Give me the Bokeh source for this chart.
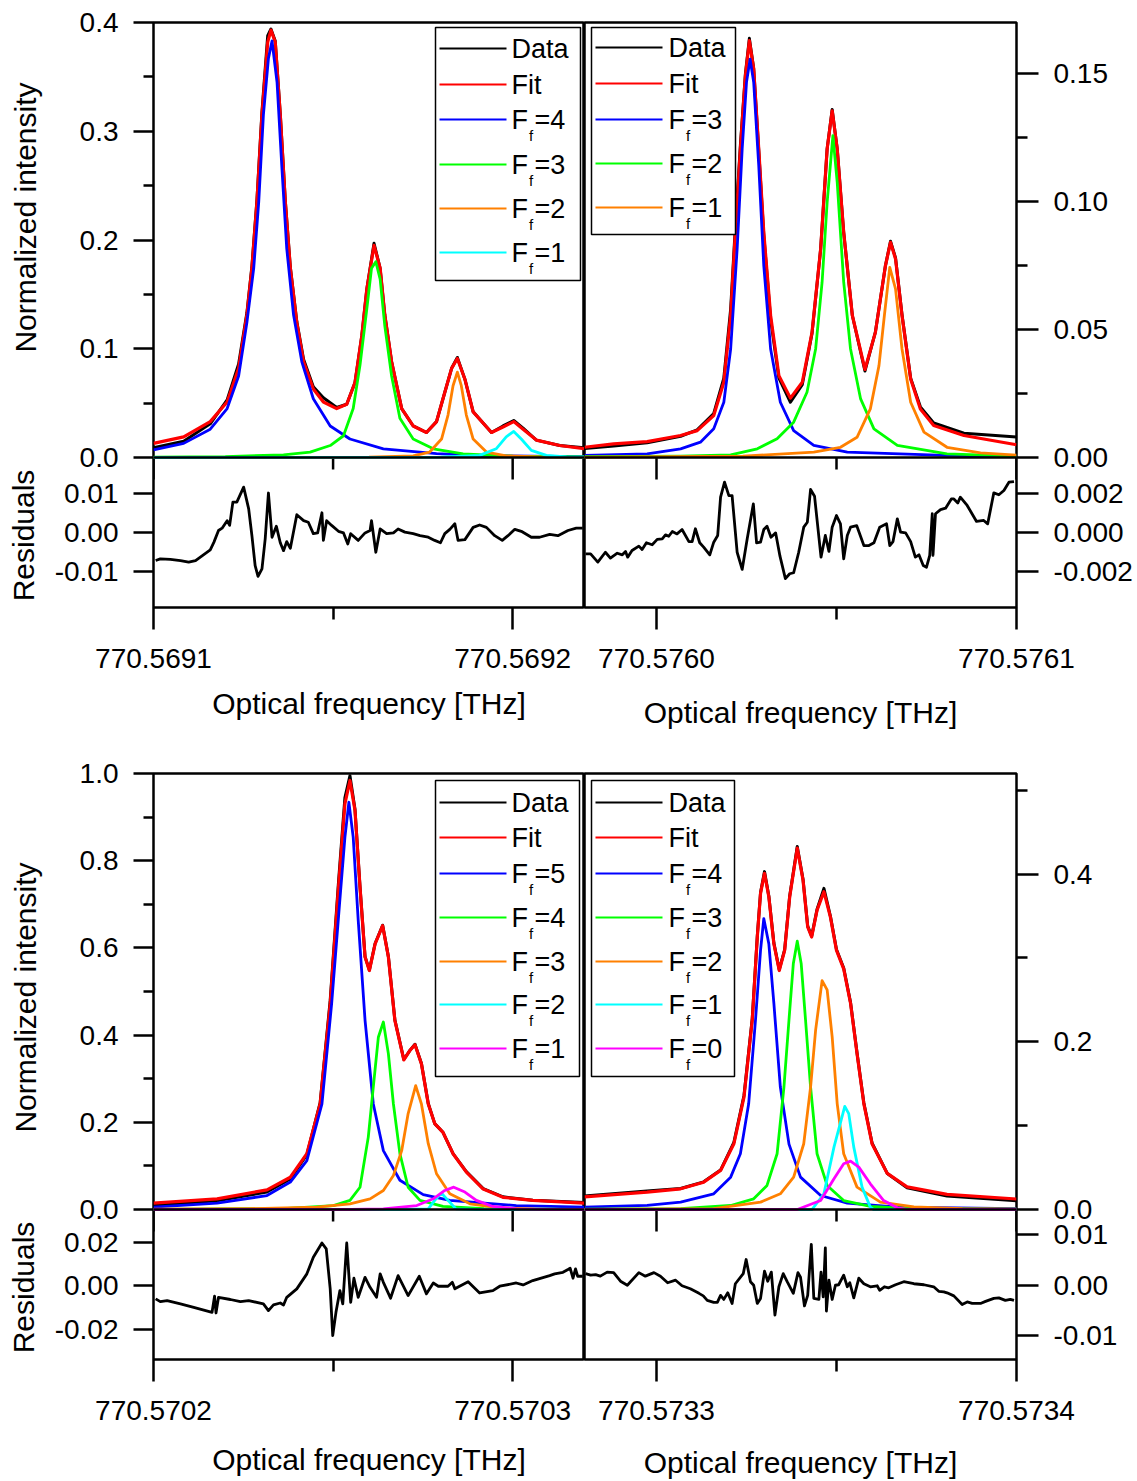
import numpy as np
from bokeh.plotting import figure
from bokeh.models import (Range1d, LinearAxis, FixedTicker, Span, Label,
                          BoxAnnotation, Arrow, CustomJSTickFormatter)
from bokeh.layouts import column, row
from bokeh.embed import file_html
from bokeh.resources import INLINE

FONT = "Liberation Sans"
BLACK, RED, BLUE, GREEN = "#000000", "#FF0000", "#0000FF", "#00FF00"
ORANGE, CYAN, MAGENTA = "#FF8000", "#00FFFF", "#FF00FF"

# ---------------- x in MHz offset from the first tick label ----------------
# top-left : 770.5691 THz ; top-right : 770.5760 THz
# bottom-left: 770.5702 THz ; bottom-right: 770.5733 THz

# ---------- TOP LEFT ----------
tl_x = [0, 8.4, 15.8, 20.5, 23.7, 26.0, 27.4, 28.8, 30.2, 31.8, 32.7, 33.9, 35.3, 36.7, 38.1,
        39.9, 41.8, 44.5, 47.3, 51.0, 53.8, 56.1, 58.0, 59.4, 61.4, 63.1, 64.4, 66.3, 69.1, 72.3,
        76.0, 78.8, 80.6, 83.0, 84.6, 86.7, 89.0, 94.1, 97.3, 100.3, 102.9, 106.6, 113.1, 120]
tl_fit = [0.013, 0.019, 0.033, 0.051, 0.082, 0.131, 0.174, 0.235, 0.315, 0.382, 0.393, 0.382, 0.315,
          0.235, 0.174, 0.124, 0.088, 0.063, 0.051, 0.045, 0.049, 0.069, 0.112, 0.155, 0.195, 0.174,
          0.131, 0.088, 0.045, 0.029, 0.023, 0.033, 0.054, 0.082, 0.091, 0.072, 0.042, 0.023, 0.028,
          0.033, 0.026, 0.016, 0.011, 0.008]
tl_data = [0.009, 0.015, 0.031, 0.053, 0.086, 0.133, 0.176, 0.237, 0.318, 0.388, 0.394, 0.383, 0.316,
           0.236, 0.175, 0.125, 0.090, 0.065, 0.055, 0.046, 0.049, 0.069, 0.112, 0.155, 0.197, 0.174,
           0.131, 0.088, 0.045, 0.029, 0.023, 0.033, 0.054, 0.082, 0.092, 0.072, 0.042, 0.023, 0.029,
           0.034, 0.027, 0.016, 0.011, 0.009]
tl_f4 = [(0, 0.007), (8.4, 0.013), (15.8, 0.026), (20.5, 0.045), (23.7, 0.075), (26.0, 0.124),
         (27.9, 0.174), (29.3, 0.235), (30.6, 0.315), (32.0, 0.367), (33.0, 0.383), (34.4, 0.345),
         (35.7, 0.269), (37.1, 0.192), (39.0, 0.131), (41.3, 0.088), (44.5, 0.054), (49.2, 0.029),
         (54.7, 0.017), (64.0, 0.008), (78.8, 0.0035), (90, 0.002), (105, 0.0012), (120, 0.0008)]
tl_f3 = [(0, 0.0004), (20, 0.0008), (36.2, 0.0025), (43.6, 0.005), (49.2, 0.011), (52.9, 0.020),
         (55.6, 0.045), (57.5, 0.085), (59.4, 0.137), (60.7, 0.174), (61.9, 0.180), (63.1, 0.164),
         (64.4, 0.121), (66.3, 0.075), (68.6, 0.036), (72.3, 0.017), (77.9, 0.008), (86.2, 0.0034),
         (100, 0.0012), (120, 0.0006)]
tl_f2 = [(0, 0.0001), (60, 0.0003), (72.3, 0.0015), (76.9, 0.005), (80.2, 0.017), (82.0, 0.039),
         (83.4, 0.066), (84.6, 0.0785), (85.7, 0.066), (87.1, 0.039), (89.0, 0.017), (92.7, 0.005),
         (98.2, 0.0015), (110, 0.0004), (120, 0.0002)]
tl_f1 = [(0, 0.0), (80, 0.0003), (90.8, 0.002), (95.4, 0.008), (98.2, 0.019), (100.3, 0.024),
         (102.4, 0.017), (105.2, 0.0065), (109.4, 0.002), (115, 0.0006), (120, 0.0003)]
tl_res = [(0.6, -0.0071), (1.9, -0.0067), (4.7, -0.0068), (7.5, -0.0071), (9.8, -0.0075), (11.7, -0.0071),
          (14.0, -0.0056), (15.8, -0.0044), (16.8, -0.0025), (18.1, 0.0005), (19.1, 0.0011), (20.5, 0.0030),
          (21.2, 0.0018), (22.1, 0.0077), (23.2, 0.0077), (25.1, 0.0115), (26.5, 0.0060), (27.4, -0.0008),
          (28.3, -0.0084), (29.1, -0.0111), (30.2, -0.0092), (31.1, -0.0016), (32.0, 0.0100), (33.0, -0.0012),
          (34.2, 0.0016), (35.3, -0.0026), (36.2, -0.0046), (37.1, -0.0023), (38.1, -0.0040), (39.9, 0.0045),
          (41.8, 0.0030), (43.1, 0.0026), (44.5, -0.0003), (45.7, -0.0001), (46.9, 0.0050), (47.3, -0.0020),
          (48.2, 0.0030), (49.6, 0.0018), (51.5, 0.0003), (52.9, -0.0001), (54.1, -0.0029), (54.9, -0.0003),
          (57.0, -0.0020), (58.9, -0.0001), (60.3, 0.0005), (60.7, 0.0030), (61.9, -0.0050), (63.1, 0.0009),
          (64.9, -0.0003), (66.8, -0.0001), (68.1, 0.0009), (70.0, 0.0001), (72.3, -0.0003), (74.2, -0.0008),
          (76.5, -0.0012), (78.3, -0.0020), (79.9, -0.0026), (81.1, -0.0003), (82.5, 0.0008), (83.9, 0.0022),
          (84.8, -0.0020), (86.7, -0.0018), (89.0, 0.0013), (90.8, 0.0019), (92.7, 0.0013), (95.0, -0.0008),
          (97.1, -0.0020), (98.7, -0.0008), (100.6, 0.0008), (102.4, 0.0003), (105.2, -0.0012),
          (107.5, -0.0012), (110.3, -0.0005), (112.6, -0.0008), (115.4, 0.0005), (117.7, 0.0011),
          (119.5, 0.0011)]

# ---------- TOP RIGHT ----------
tr_x = [-20, -11.9, -2.6, 6.7, 11.3, 15.9, 18.7, 20.6, 21.9, 23.3, 24.7, 25.8, 27.0, 28.4, 29.8, 31.7,
        34.0, 37.2, 40.5, 43.2, 45.6, 47.4, 48.8, 50.2, 52.0, 54.4, 57.9, 60.8, 63.6, 65.0, 66.4, 68.2,
        70.6, 73.3, 77.0, 85.4, 100]
tr_fit = [0.0040, 0.0053, 0.0062, 0.0086, 0.0105, 0.0164, 0.0294, 0.0555, 0.088, 0.1206, 0.1492, 0.1629,
          0.1518, 0.1206, 0.088, 0.0555, 0.032, 0.0232, 0.0294, 0.0489, 0.0815, 0.1206, 0.1355, 0.1206,
          0.088, 0.0555, 0.0344, 0.0489, 0.075, 0.0841, 0.0776, 0.0555, 0.0307, 0.019, 0.0125, 0.0086,
          0.0050]
tr_data = [0.0035, 0.0045, 0.0058, 0.0083, 0.0108, 0.0172, 0.031, 0.058, 0.090, 0.122, 0.150, 0.1638,
           0.152, 0.120, 0.087, 0.054, 0.031, 0.0216, 0.0285, 0.0485, 0.0815, 0.1206, 0.136, 0.1206,
           0.088, 0.0555, 0.0338, 0.049, 0.075, 0.0845, 0.078, 0.0558, 0.031, 0.0198, 0.0135, 0.0095,
           0.0080]
tr_f3 = [(-20, 0.0008), (-2.6, 0.0014), (6.7, 0.0034), (12.2, 0.006), (15.9, 0.0112), (18.7, 0.0216),
         (20.6, 0.0424), (22.4, 0.0815), (23.8, 0.1206), (25.0, 0.1466), (26.0, 0.1557), (27.0, 0.1466),
         (28.4, 0.1141), (29.8, 0.075), (31.7, 0.0424), (34.4, 0.0216), (38.1, 0.0105), (43.7, 0.0047),
         (53.0, 0.0021), (80, 0.0008), (100, 0.0005)]
tr_f2 = [(-20, 0.0003), (6.7, 0.0005), (20.6, 0.001), (28.0, 0.0034), (33.5, 0.0073), (38.1, 0.0138),
         (41.8, 0.0255), (44.2, 0.0424), (46.0, 0.0685), (47.4, 0.0997), (49.0, 0.1258), (50.2, 0.1075),
         (52.0, 0.0685), (53.9, 0.0424), (56.7, 0.0229), (60.4, 0.0112), (66.9, 0.0047), (80.7, 0.0014),
         (100, 0.0005)]
tr_f1 = [(-20, 0.0001), (24, 0.0005), (43.7, 0.0021), (51.1, 0.004), (55.7, 0.0079), (59.4, 0.019),
         (61.8, 0.0359), (63.3, 0.0555), (64.8, 0.0743), (66.4, 0.0659), (68.2, 0.0424), (70.6, 0.0216),
         (74.3, 0.0099), (80.7, 0.004), (90, 0.0018), (100, 0.0009)]
tr_res = [(-19.7, -0.00108), (-18.3, -0.00108), (-16.3, -0.0015), (-14.2, -0.0010), (-12.8, -0.0013),
          (-10.9, -0.00105), (-9.5, -0.00113), (-8.6, -0.00096), (-8.0, -0.00125), (-6.8, -0.00091),
          (-4.9, -0.00069), (-4.0, -0.00086), (-2.8, -0.00052), (-1.2, -0.00062), (0.2, -0.00035),
          (1.6, -0.00032), (2.5, -0.00012), (3.4, -0.00019), (4.4, 0.00005), (5.7, -0.00007), (7.1, 0.00015),
          (9.0, -0.00046), (9.9, -0.00046), (10.8, 0.00019), (12.0, -0.00052), (13.1, -0.00074),
          (14.8, -0.00113), (15.9, -0.00049), (17.0, -0.00015), (17.8, 0.00179), (18.9, 0.00255),
          (20.1, 0.00187), (21.0, 0.00187), (22.4, -0.0010), (23.8, -0.00187), (25.2, -0.00032),
          (26.9, 0.00145), (27.8, -0.00052), (28.9, -0.00049), (29.8, 0.00015), (30.7, 0.00032),
          (31.8, -0.00024), (33.1, -0.00002), (34.3, -0.0012), (35.8, -0.00234), (37.0, -0.00209),
          (38.1, -0.00204), (39.5, -0.0010), (40.9, 0.00027), (41.9, 0.00052), (42.8, 0.00218),
          (43.9, 0.00184), (45.7, -0.00125), (46.9, -0.00015), (47.9, -0.00096), (48.8, 0.00027),
          (50.0, 0.00086), (51.1, 0.00044), (52.0, -0.00133), (53.0, -0.00015), (53.9, 0.00027),
          (55.6, 0.00035), (57.6, -0.00066), (59.0, -0.00066), (60.4, -0.00052), (62.0, 0.00027),
          (63.9, 0.00044), (64.8, -0.00066), (65.7, -0.00046), (66.9, 0.00069), (67.8, 0.00002),
          (69.2, -0.00002), (70.6, -0.00046), (71.9, -0.00125), (72.9, -0.00113), (74.1, -0.00167),
          (75.0, -0.00176), (75.9, -0.00116), (76.6, 0.00095), (76.8, -0.00116), (77.5, 0.00095),
          (78.9, 0.00116), (80.3, 0.00123), (81.9, 0.0017), (82.6, 0.0017), (83.7, 0.0015), (84.4, 0.00179),
          (86.3, 0.00137), (88.9, 0.00056), (90.9, 0.00061), (92.0, 0.00044), (93.7, 0.00201),
          (95.1, 0.00191), (96.5, 0.00213), (97.9, 0.00255), (99.3, 0.00258)]

# ---------- BOTTOM LEFT ----------
bl_x = [0, 17.7, 31.6, 38.1, 42.7, 46.4, 49.2, 51.5, 53.3, 54.7, 56.1, 57.5, 58.9, 60.1, 61.7, 63.8,
        65.4, 67.2, 69.7, 71.4, 72.8, 74.6, 76.5, 78.3, 80.6, 83.4, 87.1, 91.8, 97.3, 105.6, 120]
bl_fit = [0.0145, 0.0245, 0.045, 0.074, 0.128, 0.242, 0.472, 0.739, 0.931, 0.984, 0.915, 0.739, 0.579,
          0.548, 0.609, 0.651, 0.579, 0.434, 0.343, 0.365, 0.378, 0.334, 0.242, 0.197, 0.177, 0.128,
          0.086, 0.047, 0.028, 0.021, 0.0145]
bl_data = [0.010, 0.020, 0.040, 0.070, 0.126, 0.245, 0.48, 0.75, 0.945, 0.995, 0.918, 0.74, 0.58, 0.549,
           0.61, 0.652, 0.58, 0.435, 0.344, 0.365, 0.379, 0.335, 0.243, 0.197, 0.177, 0.128, 0.087,
           0.048, 0.029, 0.021, 0.016]
bl_f5 = [(0, 0.0054), (17.7, 0.0145), (31.6, 0.032), (38.1, 0.063), (42.7, 0.112), (46.9, 0.242),
         (49.6, 0.472), (51.8, 0.701), (53.3, 0.854), (54.4, 0.934), (55.6, 0.854), (57.0, 0.663),
         (58.9, 0.434), (61.2, 0.242), (64.0, 0.135), (68.6, 0.067), (75.1, 0.034), (82.5, 0.021),
         (101, 0.009), (120, 0.0054)]
bl_f4 = [(0, 0.0005), (36.2, 0.002), (50.1, 0.009), (54.7, 0.021), (57.5, 0.051), (59.8, 0.166),
         (61.2, 0.281), (62.6, 0.395), (64.0, 0.430), (65.4, 0.357), (66.8, 0.242), (68.6, 0.128),
         (70.9, 0.051), (74.2, 0.021), (80.6, 0.007), (92, 0.002), (120, 0.0005)]
bl_f3 = [(0, 0.001), (26.9, 0.002), (45.5, 0.0054), (54.7, 0.013), (60.3, 0.0245), (64.0, 0.0436),
         (66.8, 0.078), (69.1, 0.135), (70.9, 0.220), (73.0, 0.284), (74.6, 0.242), (76.5, 0.151),
         (78.8, 0.082), (82.5, 0.036), (88.1, 0.013), (96.4, 0.004), (106, 0.001), (120, 0.0005)]
bl_f2 = [(0, 0.0), (70, 0.0), (76.5, 0.0015), (78.3, 0.021), (80.2, 0.0375), (82.0, 0.021),
         (84.2, 0.0015), (90, 0.0), (120, 0.0)]
bl_f1 = [(0, 0.0), (55, 0.0), (64, 0.0015), (73.3, 0.009), (77.9, 0.0245), (81.1, 0.0436), (83.6, 0.0512),
         (86.7, 0.040), (89.9, 0.021), (94.5, 0.007), (101, 0.0015), (110, 0.0), (120, 0.0)]
bl_res = [(0.6, -0.0061), (1.9, -0.0074), (3.8, -0.0069), (7.5, -0.0084), (11.2, -0.0100), (16.3, -0.0123),
          (17.0, -0.0049), (17.4, -0.0126), (18.1, -0.0054), (21.4, -0.0064), (24.2, -0.0074),
          (26.5, -0.0069), (30.6, -0.0084), (32.0, -0.0115), (33.4, -0.0089), (35.3, -0.0080),
          (36.2, -0.0089), (37.1, -0.0054), (39.9, -0.0015), (42.7, 0.0054), (44.5, 0.0130), (46.9, 0.0196),
          (48.1, 0.0169), (49.2, -0.0015), (49.9, -0.0230), (50.8, -0.0123), (51.9, -0.0023),
          (52.7, -0.0084), (53.8, 0.0196), (54.9, -0.0077), (55.8, 0.0034), (57.0, -0.0054), (58.9, 0.0038),
          (60.3, -0.0008), (62.1, -0.0054), (63.1, 0.0054), (64.0, 0.0015), (66.0, -0.0058), (68.1, 0.0046),
          (70.9, -0.0046), (74.0, 0.0043), (76.0, -0.0038), (77.9, 0.0012), (79.3, -0.0003),
          (82.0, -0.0003), (83.2, 0.0015), (83.9, -0.0015), (87.6, 0.0018), (90.8, -0.0034),
          (94.5, -0.0023), (96.4, -0.0003), (101.0, 0.0012), (102.9, 0.0003), (105.6, 0.0023),
          (110.3, 0.0046), (111.7, 0.0054), (114.0, 0.0061), (115.4, 0.0074), (116.0, 0.0080),
          (116.8, 0.0034), (117.5, 0.0077), (118.1, 0.0043), (119.5, 0.0043)]

# ---------- BOTTOM RIGHT ----------
br_x = [-20, -2.6, 6.7, 13.1, 17.8, 21.5, 24.3, 26.6, 28.0, 28.9, 30.0, 31.2, 32.6, 34.1, 35.6, 37.0,
        39.1, 40.7, 42.0, 43.1, 44.6, 46.5, 48.3, 50.0, 52.0, 53.9, 55.7, 57.6, 59.9, 64.1, 69.6, 80.7, 100]
br_fit = [0.0150, 0.0207, 0.0247, 0.0326, 0.0466, 0.0784, 0.134, 0.226, 0.325, 0.377, 0.401, 0.373,
          0.317, 0.285, 0.309, 0.373, 0.431, 0.393, 0.337, 0.325, 0.357, 0.379, 0.349, 0.309, 0.287,
          0.246, 0.186, 0.126, 0.078, 0.043, 0.027, 0.018, 0.0125]
br_data = [0.016, 0.022, 0.025, 0.033, 0.047, 0.080, 0.136, 0.228, 0.326, 0.378, 0.403, 0.374, 0.318,
           0.286, 0.310, 0.374, 0.433, 0.394, 0.338, 0.326, 0.358, 0.383, 0.350, 0.310, 0.288, 0.247,
           0.187, 0.127, 0.079, 0.043, 0.026, 0.016, 0.0105]
br_f4 = [(-20, 0.0028), (-2.6, 0.0048), (6.7, 0.0088), (15.9, 0.0187), (20.6, 0.0386), (23.3, 0.0665),
         (25.6, 0.126), (27.5, 0.226), (28.9, 0.309), (29.8, 0.347), (31.2, 0.317), (32.6, 0.246),
         (34.4, 0.146), (36.8, 0.078), (40.0, 0.0386), (45.6, 0.0167), (53.0, 0.0076), (67, 0.0028),
         (100, 0.001)]
br_f3 = [(-20, 0.0003), (6.7, 0.001), (20.6, 0.0048), (27.0, 0.0127), (30.7, 0.0287), (33.5, 0.0665),
         (35.4, 0.146), (36.8, 0.226), (38.0, 0.293), (39.1, 0.320), (40.2, 0.293), (41.4, 0.226),
         (42.8, 0.146), (44.6, 0.0665), (47.4, 0.0287), (52.0, 0.0107), (59.4, 0.0036), (71, 0.001),
         (100, 0.0003)]
br_f2 = [(-20, 0.0002), (15.9, 0.001), (28.9, 0.0088), (34.4, 0.0187), (38.1, 0.0386), (40.9, 0.0784),
         (42.8, 0.146), (44.2, 0.214), (46.0, 0.273), (47.4, 0.262), (48.8, 0.206), (50.2, 0.126),
         (52.0, 0.0665), (55.7, 0.0267), (62.2, 0.0088), (71.5, 0.003), (85, 0.001), (100, 0.0005)]
br_f1 = [(-20, 0.0), (43.2, 0.0), (46.5, 0.0187), (49.3, 0.0744), (52.3, 0.123), (53.4, 0.1143),
         (54.8, 0.0744), (57.1, 0.0267), (59.4, 0.0028), (60.3, 0.0), (100, 0.0)]
br_f0 = [(-20, 0.0), (39.1, 0.0), (45.6, 0.0107), (49.3, 0.0366), (52.0, 0.0545), (53.9, 0.0577),
         (56.2, 0.0505), (59.4, 0.0307), (63.1, 0.0107), (66.9, 0.002), (69.6, 0.0), (100, 0.0)]
br_res = [(-19.7, 0.0023), (-18.3, 0.0020), (-16.9, 0.0021), (-15.6, 0.0018), (-13.7, 0.0026),
          (-11.9, 0.0025), (-10.0, 0.0008), (-8.1, 0.0), (-4.9, 0.0025), (-3.1, 0.0018), (-0.7, 0.0025),
          (1.1, 0.0018), (3.1, 0.0005), (5.3, 0.0010), (7.1, -0.0001), (9.4, -0.0007), (11.8, -0.0016),
          (13.0, -0.0021), (14.1, -0.0030), (15.9, -0.0034), (16.9, -0.0034), (17.8, -0.0020),
          (18.7, -0.0028), (19.8, -0.0015), (21.0, -0.0036), (21.9, 0.0003), (24.1, 0.0023), (24.9, 0.0051),
          (26.1, 0.0007), (27.0, 0.0), (28.0, -0.0036), (28.9, -0.0026), (30.0, 0.0028), (30.9, 0.0008),
          (31.9, 0.0026), (32.9, -0.0059), (34.0, -0.0003), (35.2, 0.0023), (36.3, 0.0007), (38.0, -0.0016),
          (39.3, 0.0025), (40.0, 0.0016), (41.1, -0.0041), (42.0, -0.0020), (43.0, 0.0081), (43.7, -0.0026),
          (45.1, -0.0028), (45.7, 0.0026), (46.3, -0.0023), (46.9, 0.0074), (47.2, -0.0051), (47.9, 0.0010),
          (48.8, -0.0028), (49.7, 0.0), (50.6, 0.0001), (52.0, 0.0020), (53.0, -0.0003), (53.7, 0.0005),
          (54.8, -0.0025), (56.2, 0.0014), (57.6, 0.0003), (59.4, -0.0003), (61.3, -0.0001), (62.0, -0.0010),
          (63.3, -0.0003), (64.5, -0.0005), (66.4, 0.0001), (68.7, 0.0007), (71.5, 0.0003), (74.3, 0.0001),
          (77.0, -0.0003), (78.4, -0.0012), (79.8, -0.0013), (80.7, -0.0015), (82.6, -0.0021),
          (84.9, -0.0038), (86.3, -0.0033), (87.7, -0.0036), (90.0, -0.0036), (91.4, -0.0032),
          (93.7, -0.0026), (95.1, -0.0025), (96.9, -0.0030), (98.3, -0.0028), (99.3, -0.0030)]

# ---------- axis ticks / labels ----------
left_x_ticks = [0, 100]
left_x_minor = [50]
right_x_ticks = [0, 100]
right_x_minor = [50]
tl_xlabels = ["770.5691", "770.5692"]
tr_xlabels = ["770.5760", "770.5761"]
bl_xlabels = ["770.5702", "770.5703"]
br_xlabels = ["770.5733", "770.5734"]

tl_yt = [0, 0.1, 0.2, 0.3, 0.4]
tl_yl = ["0.0", "0.1", "0.2", "0.3", "0.4"]
tl_ym = [0.05, 0.15, 0.25, 0.35]
tl_rt = [-0.01, 0.0, 0.01]
tl_rl = ["-0.01", "0.00", "0.01"]

tr_yt = [0, 0.05, 0.10, 0.15]
tr_yl = ["0.00", "0.05", "0.10", "0.15"]
tr_ym = [0.025, 0.075, 0.125]
tr_rt = [-0.002, 0.0, 0.002]
tr_rl = ["-0.002", "0.000", "0.002"]

bl_yt = [0, 0.2, 0.4, 0.6, 0.8, 1.0]
bl_yl = ["0.0", "0.2", "0.4", "0.6", "0.8", "1.0"]
bl_ym = [0.1, 0.3, 0.5, 0.7, 0.9]
bl_rt = [-0.02, 0.0, 0.02]
bl_rl = ["-0.02", "0.00", "0.02"]

br_yt = [0, 0.2, 0.4]
br_yl = ["0.0", "0.2", "0.4"]
br_ym = [0.1, 0.3, 0.5]
br_rt = [-0.01, 0.0, 0.01]
br_rl = ["-0.01", "0.00", "0.01"]

assert len(tl_x) == len(tl_fit) == len(tl_data)
assert len(tr_x) == len(tr_fit) == len(tr_data)
assert len(bl_x) == len(bl_fit) == len(bl_data)
assert len(br_x) == len(br_fit) == len(br_data)

LABW = 46  # width of the strip holding the vertical axis titles
LAB_SHIFT = 22  # empirical vertical correction for rotated titles


def lookup_formatter(tick_vals, tick_texts):
    return CustomJSTickFormatter(args=dict(tvals=list(tick_vals), ttexts=list(tick_texts)), code="""
        let best = 0, bd = Infinity;
        for (let i = 0; i < tvals.length; i++) {
            const d = Math.abs(tvals[i] - tick);
            if (d < bd) { bd = d; best = i; }
        }
        return ttexts[best];
    """)


def make_panel(xr, xt, xm, xlabels, main_r, res_r, main_h, res_h, frame_w,
               bl, br, bt, bb, side, yt, yl, ym, rt, rl, ytick, xlab_standoff):
    m_lo, m_hi = main_r
    ext_lo = m_lo - (m_hi - m_lo) * res_h / main_h
    r_lo, r_hi = res_r
    r_ext_hi = r_lo + (r_hi - r_lo) * (main_h + res_h) / res_h
    p = figure(x_range=Range1d(*xr), y_range=Range1d(ext_lo, m_hi),
               frame_width=frame_w, frame_height=main_h + res_h,
               min_border_left=bl, min_border_right=br, min_border_top=bt, min_border_bottom=bb,
               x_axis_type=None, y_axis_type=None, toolbar_location=None,
               output_backend="svg", title=None)
    p.extra_y_ranges = {"res": Range1d(r_lo, r_ext_hi)}
    p.outline_line_color = "black"
    p.outline_line_width = 2.5
    p.outline_line_alpha = 1.0
    p.background_fill_color = "white"
    p.border_fill_color = "white"

    def to_main(r):
        return ext_lo + (r - r_lo) / (r_ext_hi - r_lo) * (m_hi - ext_lo)

    ticks = list(yt) + [to_main(r) for r in rt]
    labels = list(yl) + list(rl)
    yax = LinearAxis(ticker=FixedTicker(ticks=ticks, minor_ticks=list(ym)),
                     formatter=lookup_formatter(ticks, labels),
                     axis_line_color=None,
                     major_tick_in=0, major_tick_out=ytick,
                     minor_tick_in=0, minor_tick_out=ytick // 2,
                     major_tick_line_width=2.5, minor_tick_line_width=2.5,
                     major_label_standoff=15,
                     major_label_text_font=FONT, major_label_text_font_size="28px",
                     major_label_text_color="black")
    p.add_layout(yax, side)

    xax = LinearAxis(ticker=FixedTicker(ticks=list(xt), minor_ticks=list(xm)),
                     formatter=lookup_formatter(xt, xlabels),
                     axis_line_color=None,
                     major_tick_in=0, major_tick_out=22,
                     minor_tick_in=0, minor_tick_out=12,
                     major_tick_line_width=2.5, minor_tick_line_width=2.5,
                     major_label_standoff=19,
                     major_label_text_font=FONT, major_label_text_font_size="28px",
                     major_label_text_color="black",
                     axis_label="Optical frequency [THz]",
                     axis_label_standoff=xlab_standoff,
                     axis_label_text_font=FONT, axis_label_text_font_size="30px",
                     axis_label_text_font_style="normal", axis_label_text_color="black")
    p.add_layout(xax, "below")

    # separator between main and residual panels, with inward ticks
    p.add_layout(Span(location=m_lo, dimension="width", line_color="black", line_width=2.5))
    p.ray(x=list(xt), y=[m_lo] * len(xt), length=22, length_units="screen",
          angle=-np.pi / 2, line_color="black", line_width=2.5)
    p.ray(x=list(xm), y=[m_lo] * len(xm), length=12, length_units="screen",
          angle=-np.pi / 2, line_color="black", line_width=2.5)
    return p


def draw_curves(p, x, data, fit, comps, res):
    p.line(x, data, line_color=BLACK, line_width=3, line_join="round")
    p.line(x, fit, line_color=RED, line_width=3.2, line_join="round")
    for pts, col in comps:
        xs, ys = zip(*pts)
        p.line(list(xs), list(ys), line_color=col, line_width=2.8, line_join="round")
    rx, ry = zip(*res)
    p.line(list(rx), list(ry), line_color=BLACK, line_width=2.8, line_join="round",
           y_range_name="res")


def add_legend(p, fl, fb, box, xl, xtxt, items):
    p.add_layout(BoxAnnotation(left=box[0] - fl, right=box[1] - fl, top=fb - box[2], bottom=fb - box[3],
                               left_units="screen", right_units="screen",
                               top_units="screen", bottom_units="screen",
                               fill_color="white", fill_alpha=1.0,
                               line_color="black", line_width=1.5, line_alpha=1.0))
    for text, col, py, sub in items:
        p.add_layout(Arrow(end=None, x_start=xl[0] - fl, y_start=fb - py,
                           x_end=xl[1] - fl, y_end=fb - py,
                           start_units="screen", end_units="screen",
                           line_color=col, line_width=2.2))
        if sub is None:
            p.add_layout(Label(x=xtxt - fl, y=fb - py, x_units="screen", y_units="screen",
                               text=text, text_font=FONT, text_font_size="27px",
                               text_baseline="middle", text_align="left", text_color="black"))
        else:
            p.add_layout(Label(x=xtxt - fl, y=fb - py, x_units="screen", y_units="screen",
                               text="F", text_font=FONT, text_font_size="27px",
                               text_baseline="middle", text_align="left", text_color="black"))
            p.add_layout(Label(x=xtxt + 17.5 - fl, y=fb - py - 15.5, x_units="screen", y_units="screen",
                               text=sub, text_font=FONT, text_font_size="15px",
                               text_baseline="middle", text_align="left", text_color="black"))
            p.add_layout(Label(x=xtxt + 23 - fl, y=fb - py, x_units="screen", y_units="screen",
                               text="=" + text, text_font=FONT, text_font_size="27px",
                               text_baseline="middle", text_align="left", text_color="black"))


def label_strip(height, labels):
    s = figure(x_range=Range1d(0, 1), y_range=Range1d(0, 1), frame_width=LABW, frame_height=height,
               min_border_left=0, min_border_right=0, min_border_top=0, min_border_bottom=0,
               x_axis_type=None, y_axis_type=None, toolbar_location=None,
               output_backend="svg", title=None)
    s.outline_line_color = None
    s.background_fill_color = "white"
    s.border_fill_color = "white"
    for text, sx, sy in labels:
        s.add_layout(Label(x=sx, y=sy + LAB_SHIFT, x_units="screen", y_units="screen", text=text,
                           angle=np.pi / 2, text_font=FONT, text_font_size="30px",
                           text_align="center", text_baseline="middle", text_color="black"))
    return s


# ---------------- panels ----------------
TOP_H = 22 + 585 + 144
BOT_H = 22 + 586 + 122

p_tl = make_panel((0, 120), left_x_ticks, left_x_minor, tl_xlabels, (0, 0.4), (-0.019, 0.019), 435, 150,
                  431, 153 - LABW, 0, 22, 144, "left", tl_yt, tl_yl, tl_ym, tl_rt, tl_rl, 20, 16)
draw_curves(p_tl, tl_x, tl_data, tl_fit,
            [(tl_f4, BLUE), (tl_f3, GREEN), (tl_f2, ORANGE), (tl_f1, CYAN)], tl_res)
add_legend(p_tl, 153, 607, (435, 580, 27, 280), (439, 506), 511,
           [("Data", BLACK, 48, None), ("Fit", RED, 84, None), ("4", BLUE, 119, "f"),
            ("3", GREEN, 164, "f"), ("2", ORANGE, 208, "f"), ("1", CYAN, 252, "f")])
s_top = label_strip(TOP_H, [("Normalized intensity", 25, TOP_H - 217), ("Residuals", 23, TOP_H - 535)])

p_tr = make_panel((-20, 100), right_x_ticks, right_x_minor, tr_xlabels, (0, 0.17), (-0.0038, 0.0038), 435, 150,
                  432, 0, 121, 22, 144, "right", tr_yt, tr_yl, tr_ym, tr_rt, tr_rl, 22, 25)
draw_curves(p_tr, tr_x, tr_data, tr_fit,
            [(tr_f3, BLUE), (tr_f2, GREEN), (tr_f1, ORANGE)], tr_res)
add_legend(p_tr, 584, 607, (591, 735, 27, 234), (595, 662), 668,
           [("Data", BLACK, 47, None), ("Fit", RED, 83, None), ("3", BLUE, 119, "f"),
            ("2", GREEN, 163, "f"), ("1", ORANGE, 207, "f")])

p_bl = make_panel((0, 120), left_x_ticks, left_x_minor, bl_xlabels, (0, 1.0), (-0.034, 0.035), 436, 150,
                  431, 153 - LABW, 0, 22, 122, "left", bl_yt, bl_yl, bl_ym, bl_rt, bl_rl, 20, 20)
draw_curves(p_bl, bl_x, bl_data, bl_fit,
            [(bl_f5, BLUE), (bl_f4, GREEN), (bl_f3, ORANGE), (bl_f2, CYAN), (bl_f1, MAGENTA)], bl_res)
add_legend(p_bl, 153, 1359, (435, 579, 780, 1076), (439, 506), 511,
           [("Data", BLACK, 802, None), ("Fit", RED, 837, None), ("5", BLUE, 873, "f"),
            ("4", GREEN, 917, "f"), ("3", ORANGE, 961, "f"), ("2", CYAN, 1004, "f"),
            ("1", MAGENTA, 1048, "f")])
s_bot = label_strip(BOT_H, [("Normalized intensity", 25, BOT_H - (997 - 751)),
                            ("Residuals", 23, BOT_H - (1287 - 751))])

p_br = make_panel((-20, 100), right_x_ticks, right_x_minor, br_xlabels, (0, 0.52), (-0.0147, 0.0150), 436, 150,
                  432, 0, 121, 22, 122, "right", br_yt, br_yl, br_ym, br_rt, br_rl, 22, 23)
draw_curves(p_br, br_x, br_data, br_fit,
            [(br_f4, BLUE), (br_f3, GREEN), (br_f2, ORANGE), (br_f1, CYAN), (br_f0, MAGENTA)], br_res)
add_legend(p_br, 584, 1359, (591, 734, 780, 1076), (595, 662), 668,
           [("Data", BLACK, 802, None), ("Fit", RED, 837, None), ("4", BLUE, 873, "f"),
            ("3", GREEN, 917, "f"), ("2", ORANGE, 961, "f"), ("1", CYAN, 1004, "f"),
            ("0", MAGENTA, 1048, "f")])

layout = column(row(s_top, p_tl, p_tr, spacing=0), row(s_bot, p_bl, p_br, spacing=0), spacing=0)

with open("out.html", "w") as f:
    f.write(file_html(layout, INLINE, title="Hyperfine spectra"))
